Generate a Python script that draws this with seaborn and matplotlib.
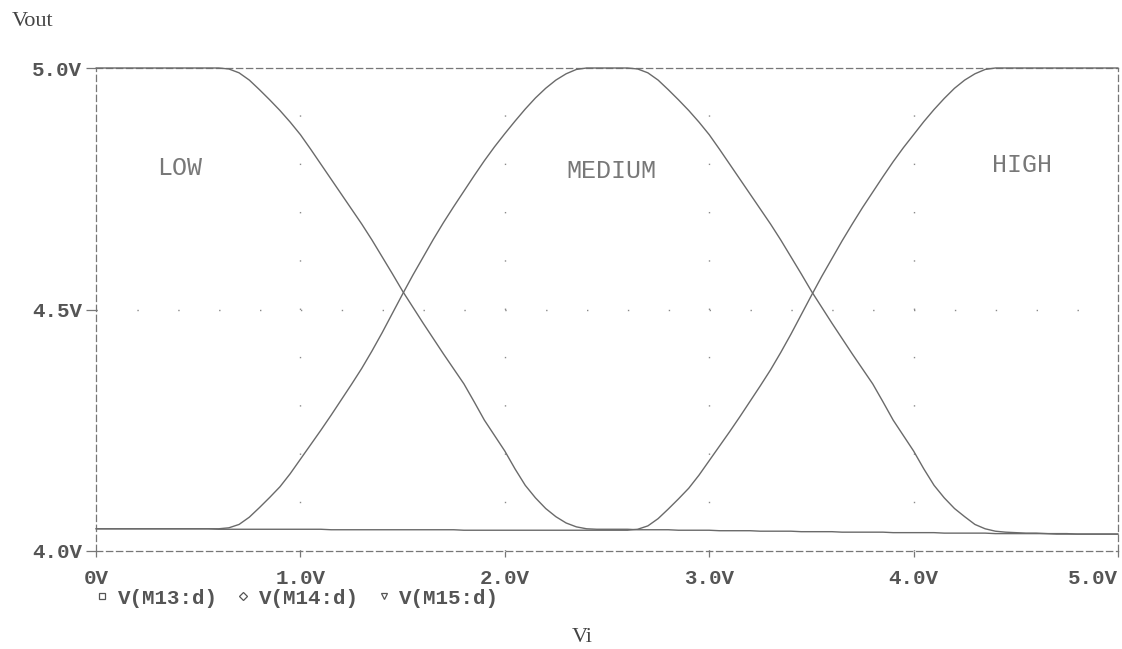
import matplotlib
matplotlib.use("Agg")
import matplotlib.pyplot as plt
from matplotlib.lines import Line2D
import pandas as pd
import seaborn as sns

# Swept input voltage (V), 50 mV steps
vi = [round(0.05 * i, 2) for i in range(101)]

# Drain voltages of the three membership cells (V)
v_m13 = ([5.000] * 13 +
         [4.998, 4.990, 4.975, 4.955, 4.934, 4.912, 4.888, 4.862,
          4.832, 4.801, 4.770, 4.739, 4.708, 4.677, 4.644, 4.609, 4.574, 4.538,
          4.505, 4.472, 4.440, 4.408, 4.377, 4.346, 4.309, 4.271, 4.239, 4.207,
          4.170, 4.136, 4.110, 4.088, 4.071, 4.058, 4.050, 4.046] +
         [4.045, 4.045, 4.045, 4.045, 4.044, 4.044, 4.044, 4.044, 4.043, 4.043,
          4.043, 4.043, 4.042, 4.042, 4.042, 4.042, 4.041, 4.041, 4.041, 4.041,
          4.040, 4.040, 4.040, 4.040, 4.039, 4.039, 4.039, 4.039, 4.039, 4.038,
          4.038, 4.038, 4.038, 4.038, 4.037, 4.037, 4.037, 4.037, 4.037, 4.036,
          4.036, 4.036, 4.036, 4.036, 4.036, 4.035, 4.035, 4.035, 4.035, 4.035,
          4.035, 4.035])

v_m14 = ([4.046] * 13 +
         [4.048, 4.055, 4.070, 4.090, 4.111, 4.133, 4.160, 4.190,
          4.220, 4.250, 4.281, 4.313, 4.345, 4.378, 4.414, 4.452, 4.492, 4.532,
          4.571, 4.608, 4.645, 4.680, 4.713, 4.745, 4.777, 4.808, 4.837, 4.864,
          4.890, 4.915, 4.938, 4.958, 4.975, 4.988, 4.997, 5.000] +
         [5.000] * 4 +
         [4.998, 4.990, 4.975, 4.955, 4.934, 4.912, 4.888, 4.862,
          4.832, 4.801, 4.770, 4.739, 4.708, 4.677, 4.644, 4.609, 4.574, 4.538,
          4.505, 4.472, 4.440, 4.408, 4.377, 4.346, 4.309, 4.271, 4.239, 4.207,
          4.170, 4.136, 4.110, 4.088, 4.071, 4.055, 4.046, 4.041] +
         [4.039, 4.038, 4.037, 4.037, 4.036, 4.036, 4.036, 4.035, 4.035, 4.035,
          4.035, 4.035])

v_m15 = ([4.046] * 10 +
         [4.046, 4.046, 4.045, 4.045, 4.045, 4.045, 4.045, 4.045, 4.045, 4.045] +
         [4.045, 4.045, 4.045, 4.044, 4.044, 4.044, 4.044, 4.044, 4.044, 4.044] +
         [4.044, 4.044, 4.044, 4.044, 4.044, 4.044, 4.043, 4.043, 4.043, 4.043] +
         [4.043] * 13 +
         [4.045, 4.052, 4.067, 4.087, 4.108, 4.130, 4.157, 4.187,
          4.217, 4.247, 4.278, 4.310, 4.342, 4.375, 4.411, 4.449, 4.489, 4.529,
          4.568, 4.605, 4.642, 4.677, 4.711, 4.743, 4.775, 4.806, 4.835, 4.862,
          4.889, 4.914, 4.937, 4.958, 4.975, 4.988, 4.997, 5.000] +
         [5.000] * 12)

trace_names = ["V(M13:d)", "V(M14:d)", "V(M15:d)"]
trace_markers = ["s", "D", "v"]
region_names = ["LOW", "MEDIUM", "HIGH"]
region_x = [0.41, 2.52, 4.53]
region_y = [4.793, 4.787, 4.800]

x_ticks = [0, 1, 2, 3, 4, 5]
x_tick_labels = ["0V", "1.0V", "2.0V", "3.0V", "4.0V", "5.0V"]
y_ticks = [4.0, 4.5, 5.0]
y_tick_labels = ["4.0V", "4.5V", "5.0V"]

df = pd.DataFrame({
    "Vi": vi * 3,
    "Vout": v_m13 + v_m14 + v_m15,
    "trace": sum([[n] * len(vi) for n in trace_names], []),
})

sns.set_theme(style="white")
plt.rcParams["font.family"] = ["Liberation Mono", "DejaVu Sans"]

INK = "#6a6a6a"
TXT = "#555555"

fig = plt.figure(figsize=(11.22, 6.49), dpi=100)
fig.patch.set_facecolor("white")
ax = fig.add_axes([96 / 1122, 98 / 649, 1022 / 1122, 483 / 649])
ax.set_facecolor("white")

# dotted grid: verticals every volt, horizontal at mid-scale
for gx in x_ticks[1:-1]:
    ax.axvline(gx, color="#8a8a8a", lw=1.0, linestyle=(0, (1, 33.78)), zorder=1)
ax.axhline(y_ticks[1], color="#8a8a8a", lw=1.0, linestyle=(0, (1, 28.43)), zorder=1)

sns.lineplot(data=df, x="Vi", y="Vout", hue="trace",
             palette=[INK] * 3, legend=False, estimator=None,
             ax=ax, lw=1.0, clip_on=False, zorder=3)

ax.set_xlim(0, 5)
ax.set_ylim(4.0, 5.0)
ax.set_xlabel("")
ax.set_ylabel("")

for s in ax.spines.values():
    s.set_visible(True)
    s.set_color("#777777")
    s.set_linewidth(0.9)
    s.set_linestyle((0, (5, 3)))

ax.set_xticks(x_ticks)
ax.set_xticklabels(x_tick_labels)
ax.set_yticks(y_ticks)
ax.set_yticklabels(y_tick_labels)
ax.tick_params(axis="x", direction="out", length=4, width=0.9, color="#777777",
               pad=9, labelsize=15, labelcolor=TXT, bottom=True)
ax.tick_params(axis="y", direction="out", length=7, width=0.9, color="#777777",
               pad=3, labelsize=15, labelcolor=TXT, left=True)
for lab in ax.get_xticklabels() + ax.get_yticklabels():
    lab.set_fontweight("bold")
ax.get_xticklabels()[-1].set_horizontalalignment("right")

for name, tx, ty in zip(region_names, region_x, region_y):
    ax.text(tx, ty, name, ha="center", va="center", fontsize=18,
            color="#787878", family=["Liberation Mono", "DejaVu Sans"])

handles = [Line2D([], [], linestyle="none", marker=m, markersize=5 if m != "D" else 4,
                  markerfacecolor="white", markeredgecolor=TXT, markeredgewidth=0.9)
           for m in trace_markers]
leg = fig.legend(handles, trace_names, loc="center left",
                 bbox_to_anchor=(96 / 1122, 1 - 598 / 649), ncol=3, frameon=False,
                 handlelength=0.6, handletextpad=0.45, columnspacing=0.9,
                 borderpad=0, borderaxespad=0,
                 prop={"family": "Liberation Mono", "weight": "bold", "size": 15})
for t in leg.get_texts():
    t.set_color(TXT)

fig.text(12 / 1122, 1 - 21 / 649, "Vout", ha="left", va="center",
         family=["Liberation Serif", "DejaVu Serif"], fontsize=16, color="#444444")
fig.text(582 / 1122, 1 - 638 / 649, "Vi", ha="center", va="center",
         family=["Liberation Serif", "DejaVu Serif"], fontsize=16, color="#444444")

fig.savefig("out.png", dpi=100, facecolor="white")
